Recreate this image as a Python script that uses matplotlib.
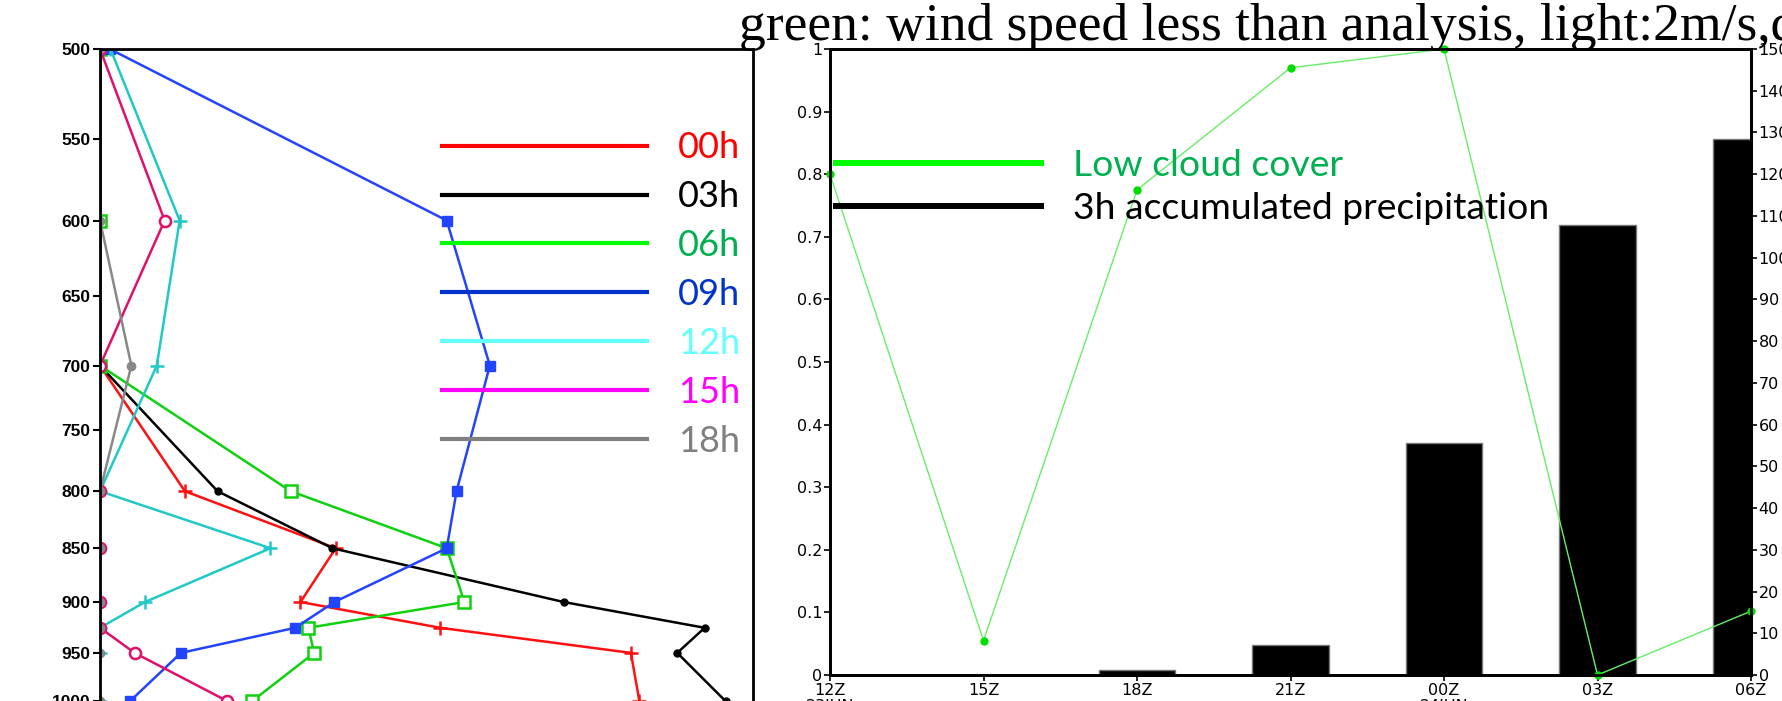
import numpy as np
import matplotlib.pyplot as plt
from matplotlib.lines import Line2D

W, H = 1782, 701

# ---- left panel: vertical profiles (fraction of panel width) ----
levels = [500, 600, 700, 800, 850, 900, 925, 950, 1000]
prof_00h = [0, 0, 0, 0.130, 0.361, 0.307, 0.521, 0.813, 0.826]
prof_03h = [0, 0, 0, 0.180, 0.356, 0.710, 0.926, 0.884, 0.958]
prof_06h = [0, 0, 0, 0.292, 0.531, 0.558, 0.319, 0.328, 0.233]
prof_09h = [0.015, 0.531, 0.597, 0.546, 0.531, 0.359, 0.299, 0.124, 0.046]
prof_12h = [0.016, 0.122, 0.087, 0, 0.261, 0.069, 0, 0, 0]
prof_15h = [0, 0.099, 0, 0, 0, 0, 0, 0.053, 0.195]
prof_18h = [0, 0, 0.048, 0, 0, 0, 0, 0, 0]
hour_labels = ['00h', '03h', '06h', '09h', '12h', '15h', '18h']

# ---- right panel: time series ----
time_labels = ['12Z\n23JUN', '15Z', '18Z', '21Z', '00Z\n24JUN', '03Z', '06Z']
low_cloud = [0.80, 0.055, 0.775, 0.97, 1.0, 0.0, 0.102]
precip_3h = [0, 0, 1.2, 7.3, 55.5, 107.8, 128.5]

fig = plt.figure(figsize=(W / 100, H / 100), dpi=100)

# left axes extends a little below the figure
ax1 = fig.add_axes([100 / W, (H - 710.5) / H, 653 / W, 661.5 / H])
ax1.set_yscale('log')

styles = [
    (prof_00h, '#ff1010', dict(marker='+', ms=10, mew=1.8)),
    (prof_03h, 'black', dict(marker='o', ms=5)),
    (prof_06h, '#10d010', dict(marker='s', ms=8, mfc='white', mew=1.8)),
    (prof_09h, '#2244ff', dict(marker='s', ms=7)),
    (prof_12h, '#20c8c8', dict(marker='+', ms=10, mew=1.8)),
    (prof_15h, '#e0106a', dict(marker='o', ms=8, mfc='white', mew=1.8)),
    (prof_18h, '#888888', dict(marker='o', ms=6)),
]
for vals, col, mk in styles:
    ax1.plot(vals, levels, color=col, lw=1.8, **mk)

ax1.set_ylim(1010, 500)
ax1.set_xlim(0, 1)
ax1.set_yticks(range(500, 1001, 50))
ax1.set_yticklabels([str(v) for v in range(500, 1001, 50)],
                    fontsize=12.5, fontweight='bold', family='Liberation Sans')
ax1.yaxis.set_minor_locator(plt.NullLocator())
ax1.set_xticks([])
ax1.tick_params(axis='y', direction='out', length=5, width=1.5, pad=2)
for sp in ax1.spines.values():
    sp.set_linewidth(2)

leg_line_cols = ['#ff0000', 'black', '#00ff00', '#0033cc', '#66ffff', '#ff00ff', '#808080']
leg_text_cols = ['#ff0000', 'black', '#00b050', '#0033cc', '#66ffff', '#ff00ff', '#808080']
handles = [Line2D([], [], color=c, lw=3) for c in leg_line_cols]
ax1.legend(handles, hour_labels, loc='center left',
           bbox_to_anchor=(442 / W, 1 - 294.5 / H), bbox_transform=fig.transFigure,
           frameon=False, prop={'family': 'Lato', 'size': 26},
           handlelength=5.68, handletextpad=0.86, labelspacing=0.44,
           borderpad=0, borderaxespad=0, labelcolor=leg_text_cols)

# ---- right panel ----
ax2 = fig.add_axes([830 / W, 26 / H, 921 / W, 626 / H])
ax3 = ax2.twinx()
x = np.arange(len(time_labels))

ax3.bar(x, precip_3h, width=0.5, color='black', edgecolor='#777777', lw=1)
ax2.plot(x, low_cloud, color='#66ee66', lw=1, marker='o', ms=5,
         mfc='#00dd00', mec='#00dd00', clip_on=False)

ax2.set_zorder(ax3.get_zorder() + 1)
ax2.patch.set_visible(False)

tick_font = {'family': 'DejaVu Sans', 'size': 11.5}
ax2.set_xlim(0, 6)
ax2.set_ylim(0, 1)
ax3.set_ylim(0, 150)
ax2.set_xticks(x)
ax2.set_xticklabels(time_labels, fontdict=tick_font, linespacing=1.1)
yt = np.round(np.arange(0, 1.01, 0.1), 1)
ax2.set_yticks(yt)
ax2.set_yticklabels(['0' if v == 0 else ('1' if v == 1 else f'{v:.1f}') for v in yt],
                    fontdict=tick_font)
ax3.set_yticks(range(0, 151, 10))
ax3.set_yticklabels([str(v) for v in range(0, 151, 10)], fontdict=tick_font)
ax2.tick_params(direction='out', length=4, width=1.2, pad=1.5)
ax3.tick_params(direction='out', length=4, width=1.2, pad=1.5)
for a in (ax2, ax3):
    for sp in a.spines.values():
        sp.set_linewidth(2)

handles2 = [Line2D([], [], color='#00ff00', lw=4.3), Line2D([], [], color='black', lw=4.3)]
ax2.legend(handles2, ['Low cloud cover', '3h accumulated precipitation'], loc='center left',
           bbox_to_anchor=(836 / W, 1 - 187 / H), bbox_transform=fig.transFigure,
           frameon=False, prop={'family': 'Lato', 'size': 26.8},
           handlelength=5.5, handletextpad=0.86, labelspacing=0.28,
           borderpad=0, borderaxespad=0, labelcolor=['#00b050', 'black'])

fig.text(739 / W, 1 - 40 / H, 'green: wind speed less than analysis, light:2m/s,d',
         fontsize=38.5, family='Liberation Serif', va='baseline', ha='left')

fig.savefig('out.png', dpi=100)
